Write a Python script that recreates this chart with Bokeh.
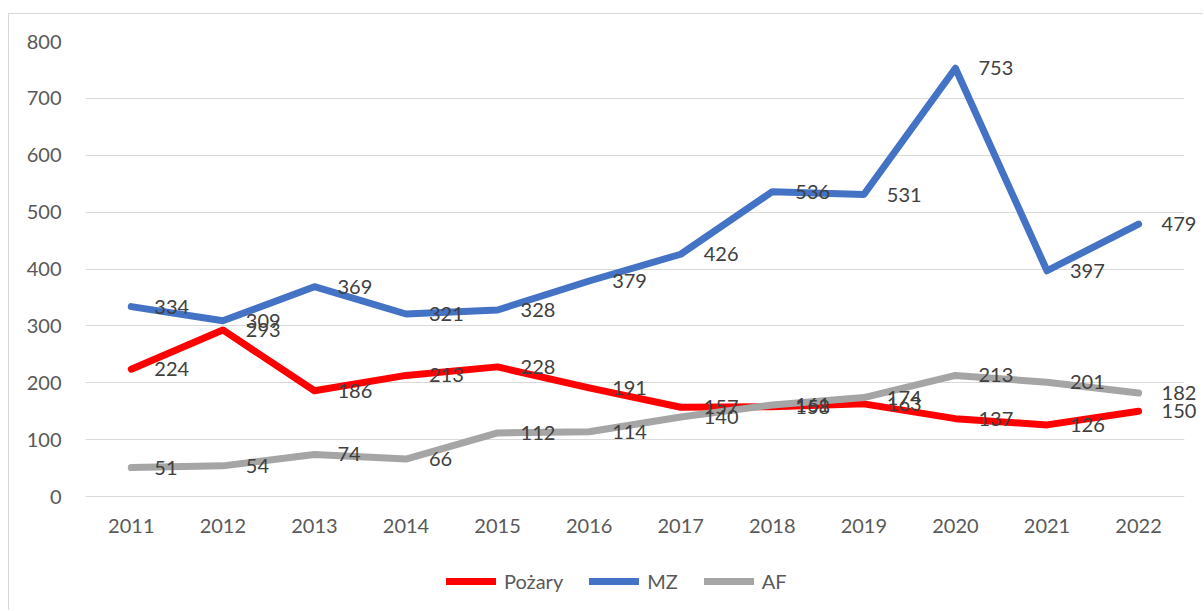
from bokeh.plotting import figure
from bokeh.models import ColumnDataSource, Range1d, FixedTicker, Legend, LegendItem
from bokeh.core.properties import value
from bokeh.embed import file_html
from bokeh.resources import INLINE

years = ["2011", "2012", "2013", "2014", "2015", "2016", "2017", "2018", "2019", "2020", "2021", "2022"]
pozary = [224, 293, 186, 213, 228, 191, 157, 158, 163, 137, 126, 150]
mz = [334, 309, 369, 321, 328, 379, 426, 536, 531, 753, 397, 479]
af = [51, 54, 74, 66, 112, 114, 140, 161, 174, 213, 201, 182]
y_ticks = [0, 100, 200, 300, 400, 500, 600, 700, 800]

series = [("Pożary", pozary, "#FF0000"), ("MZ", mz, "#4472C4"), ("AF", af, "#A5A5A5")]

FONT = "Lato"
xs = list(range(len(years)))
n = len(years)

p = figure(width=1195, height=597, x_range=Range1d(-0.5, n - 0.28), y_range=Range1d(-202, 800),
           output_backend="svg", toolbar_location=None,
           min_border_left=76, min_border_right=0, min_border_top=27, min_border_bottom=0)
p.margin = (13, 0, 0, 8)
p.styles = {"border-left": "1px solid #D9D9D9", "border-top": "1px solid #D9D9D9"}
p.outline_line_color = None
p.background_fill_color = "white"
p.border_fill_color = "white"

p.xgrid.grid_line_color = None
p.ygrid.grid_line_color = "#D9D9D9"
p.ygrid.grid_line_width = 1
p.yaxis.ticker = FixedTicker(ticks=y_ticks)
p.xaxis.ticker = FixedTicker(ticks=xs)
p.xaxis.major_label_overrides = {i: y for i, y in zip(xs, years)}
p.xaxis.fixed_location = 0

for ax in (p.xaxis, p.yaxis):
    ax.axis_line_color = None
    ax.major_tick_line_color = None
    ax.minor_tick_line_color = None
    ax.major_label_text_font = FONT
    ax.major_label_text_font_size = "20px"
    ax.major_label_text_color = "#595959"
p.yaxis.major_label_standoff = 18
p.xaxis.major_label_standoff = 16

# plot area ends at the edge of the last category: mask grid beyond it
p.quad(left=[n - 0.5], right=[n - 0.28], bottom=[-1], top=[801],
       fill_color="white", line_color=None)

renderers = []
for name, vals, color in series:
    src = ColumnDataSource(dict(x=xs, y=vals))
    r = p.line("x", "y", source=src, line_color=color, line_width=7,
               line_cap="round", line_join="round")
    renderers.append((name, r))

for name, vals, color in series:
    src = ColumnDataSource(dict(x=xs, y=vals, t=[str(v) for v in vals]))
    p.text("x", "y", text="t", source=src, x_offset=23, text_align="left",
           text_baseline="middle", text_font=value(FONT), text_font_size="20px",
           text_color="#404040")

legend = Legend(items=[LegendItem(label=nm, renderers=[r]) for nm, r in renderers],
                orientation="horizontal", location=(361, 18),
                glyph_width=50, glyph_height=8, label_standoff=8, spacing=26,
                label_text_font=FONT, label_text_font_size="20px", label_text_color="#595959",
                border_line_color=None, background_fill_alpha=0, padding=0, margin=0)
p.add_layout(legend, "center")

open("out.html", "w").write(file_html(p, INLINE))
